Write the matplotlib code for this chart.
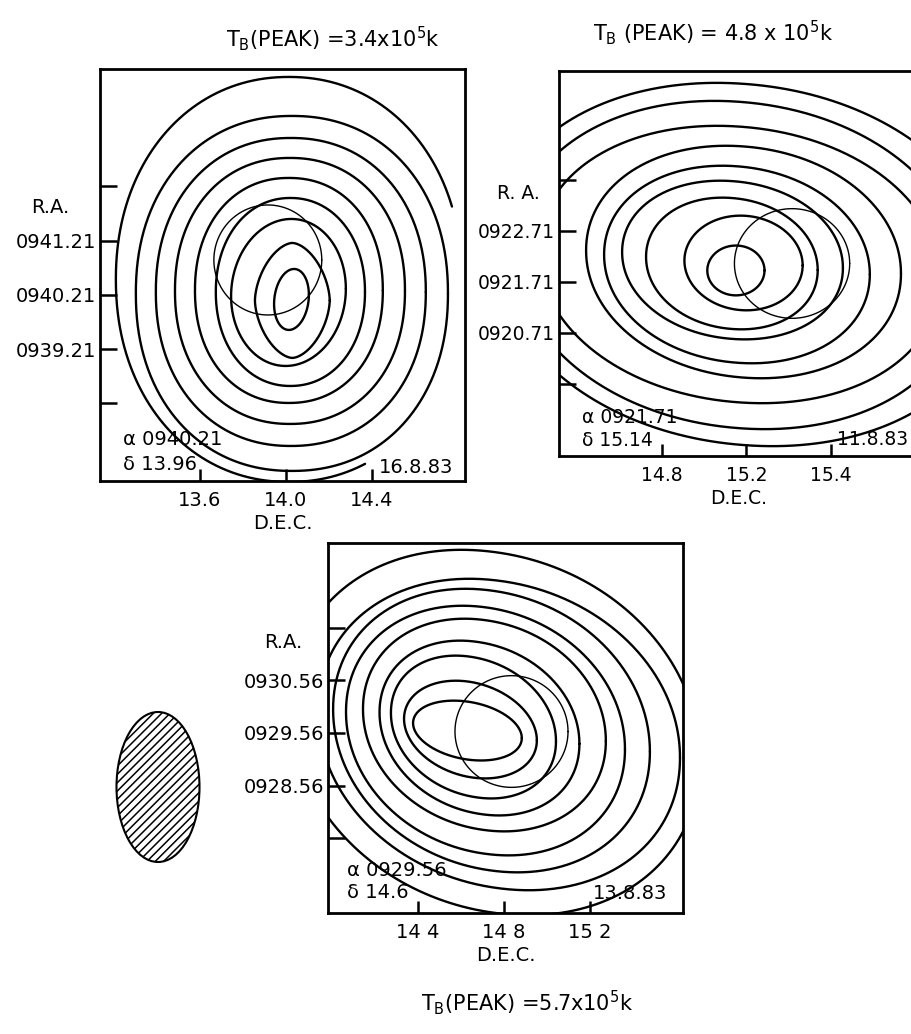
import numpy as np
import matplotlib
matplotlib.use("Agg")
import matplotlib.pyplot as plt
from matplotlib.patches import Ellipse

plt.rcParams['font.family'] = ['DejaVu Sans']
plt.rcParams['hatch.linewidth'] = 1.1
plt.rcParams['mathtext.default'] = 'regular'

# ---------------- Panel A : 16.8.83 ----------------
A_title = r'T$_{\mathrm{B}}$(PEAK) =3.4x10$^{5}$k'
A_date = '16.8.83'
A_alpha = 'α 0940.21'
A_delta = 'δ 13.96'
A_ra_name = 'R.A.'
A_ra_ticks = [938.21, 939.21, 940.21, 941.21, 942.21]
A_ra_labels = ['', '0939.21', '0940.21', '0941.21', '']
A_dec_ticks = [13.6, 14.0, 14.4]
A_dec_labels = ['13.6', '14.0', '14.4']
A_xlim = (13.135, 14.833)
A_ylim = (936.78, 944.376)
# contour rings (inner -> outer): centre, half-widths, tilt, squareness, arc range (deg)
A_cx = [14.026, 14.030, 14.012, 14.021, 14.014, 14.019, 14.023, 14.028, 14.014]
A_cy = [940.127, 940.109, 940.256, 940.265, 940.293, 940.284, 940.265, 940.238, 940.496]
A_wx = [0.081, 0.174, 0.267, 0.347, 0.437, 0.535, 0.628, 0.726, 0.805]
A_hy = [0.562, 1.060, 1.355, 1.733, 2.074, 2.452, 2.839, 3.272, 3.733]
A_rho = [0.15, 0.0, 0.05, 0.0, 0.0, 0.0, 0.0, 0.0, 0.0]
A_sq = [2.0, 1.7, 2.0, 2.1, 2.15, 2.15, 2.15, 2.15, 2.1]
A_t1 = [0, 0, 0, 0, 0, 0, 0, 0, 20]
A_t2 = [360, 360, 360, 360, 360, 360, 360, 360, 295]
A_beam = (13.916, 940.855, 0.251, 1.014)   # position circle: cx, cy, wx, hy

# ---------------- Panel B : 11.8.83 ----------------
B_title = r'T$_{\mathrm{B}}$ (PEAK) = 4.8 x 10$^{5}$k'
B_date = '11.8.83'
B_alpha = 'α 0921.71'
B_delta = 'δ 15.14'
B_ra_name = 'R. A.'
B_ra_ticks = [919.71, 920.71, 921.71, 922.71, 923.71]
B_ra_labels = ['', '0920.71', '0921.71', '0922.71', '']
B_dec_ticks = [14.8, 15.2, 15.6]
B_dec_labels = ['14.8', '15.2', '15.4']
B_xlim = (14.315, 16.009)
B_ylim = (918.286, 925.855)
B_cx = [15.150, 15.186, 15.131, 15.134, 15.155, 15.186, 15.167, 15.167, 15.191]
B_cy = [921.934, 922.081, 922.071, 922.139, 922.051, 922.100, 922.051, 922.041, 922.051]
B_wx = [0.135, 0.279, 0.405, 0.521, 0.627, 0.743, 0.947, 1.065, 1.183]
B_hy = [0.490, 0.931, 1.294, 1.559, 1.941, 2.284, 2.725, 3.225, 3.569]
B_rho = [0.0, -0.05, -0.10, -0.10, -0.10, -0.10, -0.10, -0.10, -0.10]
B_sq = [2.0, 2.0, 2.05, 2.05, 2.05, 2.05, 2.05, 2.05, 2.05]
B_t1 = [0] * 9
B_t2 = [360] * 9
B_beam = (15.415, 922.071, 0.272, 1.078)

# ---------------- Panel C : 13.8.83 ----------------
C_title = r'T$_{\mathrm{B}}$(PEAK) =5.7x10$^{5}$k'
C_date = '13.8.83'
C_alpha = 'α 0929.56'
C_delta = 'δ 14.6'
C_ra_name = 'R.A.'
C_ra_ticks = [927.56, 928.56, 929.56, 930.56, 931.56]
C_ra_labels = ['', '0928.56', '0929.56', '0930.56', '']
C_dec_ticks = [14.4, 14.8, 15.2]
C_dec_labels = ['14 4', '14 8', '15 2']
C_xlim = (13.981, 15.633)
C_ylim = (926.136, 933.17)
C_cx = [14.630, 14.644, 14.658, 14.686, 14.709, 14.714, 14.742, 14.777, 14.758]
C_cy = [929.605, 929.624, 929.672, 929.653, 929.710, 929.605, 929.605, 929.530, 929.568]
C_wx = [0.253, 0.309, 0.384, 0.465, 0.565, 0.649, 0.737, 0.842, 0.953]
C_hy = [0.569, 0.929, 1.355, 1.659, 2.019, 2.370, 2.692, 2.957, 3.469]
C_rho = [-0.25, -0.22, -0.20, -0.18, -0.15, -0.15, -0.15, -0.15, -0.15]
C_sq = [2.0, 2.0, 2.05, 2.05, 2.05, 2.05, 2.05, 2.05, 2.05]
C_t1 = [0] * 9
C_t2 = [360] * 9
C_beam = (14.835, 929.587, 0.263, 1.062)

fig = plt.figure(figsize=(9.12, 10.34), dpi=100)


def ring(ax, cx, cy, wx, hy, rho, sq=2.0, t1=0, t2=360, lw=1.7):
    t = np.radians(np.linspace(t1, t2, 600))
    c = np.cos(t)
    s = np.sin(t)
    cs = np.sign(c) * np.abs(c) ** (2.0 / sq)
    ss = np.sign(s) * np.abs(s) ** (2.0 / sq)
    x = cx + wx * cs
    y = cy + hy * (rho * cs + np.sqrt(1 - rho ** 2) * ss)
    ax.plot(x, y, color='black', lw=lw, solid_capstyle='round')


def panel(rect, xlim, ylim, cx, cy, wx, hy, rho, sq, t1, t2, beam,
          ra_ticks, ra_labels, dec_ticks, dec_labels, ra_name, ra_pos,
          alpha, delta, date, note_pos, date_pos, date_ha, fs=14):
    ax = fig.add_axes(rect)
    for i in range(len(cx)):
        ring(ax, cx[i], cy[i], wx[i], hy[i], rho[i], sq[i], t1[i], t2[i])
    ring(ax, beam[0], beam[1], beam[2], beam[3], 0.0, lw=1.0)
    ax.set_xlim(*xlim)
    ax.set_ylim(*ylim)
    ax.set_yticks(ra_ticks)
    ax.set_yticklabels(ra_labels, fontsize=fs)
    ax.set_xticks(dec_ticks)
    ax.set_xticklabels(dec_labels, fontsize=fs)
    ax.tick_params(axis='y', direction='in', length=12, width=1.8, pad=3)
    ax.tick_params(axis='x', direction='in', length=9, width=1.8, pad=7)
    for s in ax.spines.values():
        s.set_linewidth(2.0)
    ax.set_xlabel('D.E.C.', fontsize=fs, labelpad=3)
    ax.text(ra_pos[0], ra_pos[1], ra_name, transform=ax.transAxes,
            fontsize=fs, ha='center', va='center')
    ax.text(note_pos[0], note_pos[1], alpha, transform=ax.transAxes,
            fontsize=fs, ha='left', va='center')
    ax.text(note_pos[0], note_pos[1] - 0.06, delta, transform=ax.transAxes,
            fontsize=fs, ha='left', va='center')
    ax.text(date_pos[0], date_pos[1], date, transform=ax.transAxes,
            fontsize=fs, ha=date_ha, va='center')
    return ax


axA = panel([0.1096, 0.5348, 0.4002, 0.3985], A_xlim, A_ylim,
            A_cx, A_cy, A_wx, A_hy, A_rho, A_sq, A_t1, A_t2, A_beam,
            A_ra_ticks, A_ra_labels, A_dec_ticks, A_dec_labels,
            A_ra_name, (-0.137, 0.665), A_alpha, A_delta, A_date,
            (0.063, 0.100), (0.967, 0.032), 'right')

axB = panel([0.6129, 0.559, 0.3936, 0.3723], B_xlim, B_ylim,
            B_cx, B_cy, B_wx, B_hy, B_rho, B_sq, B_t1, B_t2, B_beam,
            B_ra_ticks, B_ra_labels, B_dec_ticks, B_dec_labels,
            B_ra_name, (-0.114, 0.683), B_alpha, B_delta, B_date,
            (0.064, 0.101), (0.774, 0.042), 'left', fs=13.5)

axC = panel([0.3596, 0.1170, 0.3893, 0.3578], C_xlim, C_ylim,
            C_cx, C_cy, C_wx, C_hy, C_rho, C_sq, C_t1, C_t2, C_beam,
            C_ra_ticks, C_ra_labels, C_dec_ticks, C_dec_labels,
            C_ra_name, (-0.127, 0.730), C_alpha, C_delta, C_date,
            (0.054, 0.116), (0.955, 0.054), 'right')

fig.text(0.365, 0.963, A_title, fontsize=15, ha='center', va='center')
fig.text(0.782, 0.968, B_title, fontsize=15, ha='center', va='center')
fig.text(0.578, 0.030, C_title, fontsize=15, ha='center', va='center')

# hatched beam ellipse
beam_patch = Ellipse((158 / 912, 1 - 787 / 1034), 83 / 912, 150 / 1034,
                     transform=fig.transFigure, facecolor='white',
                     edgecolor='black', hatch='////', lw=1.5)
fig.add_artist(beam_patch)

fig.savefig('out.png', dpi=100)
